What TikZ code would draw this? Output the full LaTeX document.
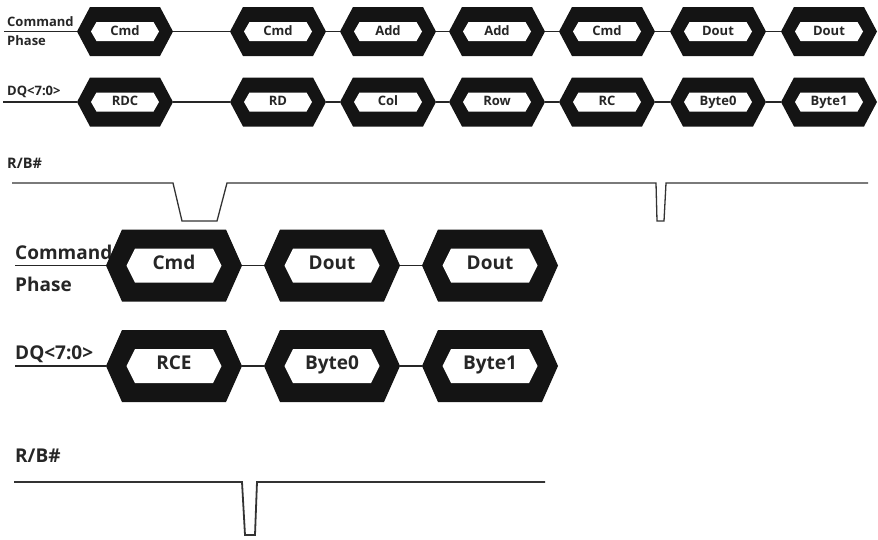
\documentclass[tikz,border=0pt]{standalone}
\usepackage{fontspec}
\setmainfont{Open Sans}
\usetikzlibrary{calc}
\begin{document}
\begin{tikzpicture}[x=1pt,y=-1pt,
  wire/.style={draw=black!85,line width=1.1pt},
  bigwire/.style={draw=black!85,line width=1.6pt},
  wave/.style={draw=black!80,line width=1.3pt,line join=miter},
  bigwave/.style={draw=black!80,line width=1.8pt,line join=miter},
  lbl/.style={anchor=base west,inner sep=0pt,font=\bfseries\fontsize{13}{15}\selectfont,text=black!85},
  biglbl/.style={anchor=base west,inner sep=0pt,font=\bfseries\fontsize{19}{22}\selectfont,text=black!85},
  % small bus cell: black hexagon with a white hexagonal window
  hexsmall/.style={inner sep=0pt,minimum width=96pt,minimum height=49pt,
    text height=0.714em,text depth=0pt,
    font=\bfseries\fontsize{13}{15}\selectfont,text=black!85,
    path picture={
      \coordinate (pc) at (path picture bounding box.center);
      \fill[black!92] ([xshift=-48pt]pc) -- ++(13,-24.5) -- ++(70,0) -- ++(13,24.5)
        -- ++(-13,24.5) -- ++(-70,0) -- cycle;
      \fill[white] ([xshift=-34pt]pc) -- ++(5.5,-9.5) -- ++(57,0) -- ++(5.5,9.5)
        -- ++(-5.5,9.5) -- ++(-57,0) -- cycle;
    }},
  % large bus cell
  hexbig/.style={inner sep=0pt,minimum width=136pt,minimum height=72pt,
    text height=0.714em,text depth=0pt,
    font=\bfseries\fontsize{19}{22}\selectfont,text=black!85,
    path picture={
      \coordinate (pc) at (path picture bounding box.center);
      \fill[black!92] ([xshift=-68pt]pc) -- ++(16,-36) -- ++(104,0) -- ++(16,36)
        -- ++(-16,36) -- ++(-104,0) -- cycle;
      \fill[white] ([xshift=-47.5pt]pc) -- ++(8.5,-17) -- ++(78,0) -- ++(8.5,17)
        -- ++(-8.5,17) -- ++(-78,0) -- cycle;
    }}]
\useasboundingbox (0,0) rectangle (878,539);

% ---------- upper timing diagram ----------
\node[lbl] (cmdA) at (7,26) {Command};
\node[lbl] (phA) at (7,45) {Phase};
\node[lbl] (dqA) at (7,95) {DQ<7:0>};
\node[lbl,font=\bfseries\fontsize{14.5}{16}\selectfont] (rbA) at (7,168) {R/B\#};

\node[hexsmall] (c1) at (125,31.5) {Cmd};
\node[hexsmall] (c2) at (278,31.5) {Cmd};
\node[hexsmall] (c3) at (388,31.5) {Add};
\node[hexsmall] (c4) at (497,31.5) {Add};
\node[hexsmall] (c5) at (607,31.5) {Cmd};
\node[hexsmall] (c6) at (718,31.5) {Dout};
\node[hexsmall] (c7) at (829,31.5) {Dout};

\node[hexsmall] (d1) at (125,102) {RDC};
\node[hexsmall] (d2) at (278,102) {RD};
\node[hexsmall] (d3) at (388,102) {Col};
\node[hexsmall] (d4) at (497,102) {Row};
\node[hexsmall] (d5) at (607,102) {RC};
\node[hexsmall] (d6) at (718,102) {Byte0};
\node[hexsmall] (d7) at (829,102) {Byte1};

\coordinate (cIn) at (4,31.5);
\coordinate (dIn) at (3,102);
\draw[wire] (cIn) -- (c1.west);
\draw[wire] (dIn) -- (d1.west);
\foreach \a/\b in {1/2,2/3,3/4,4/5,5/6,6/7}{
  \draw[wire] (c\a.east) -- (c\b.west);
  \draw[wire] (d\a.east) -- (d\b.west);
}

\draw[wave] (12,183) -- (173,183) -- (182,221) -- (217,221) -- (227,183)
  -- (656,183) -- (657,221) -- (664,221) -- (666,183) -- (868,183);

% ---------- lower timing diagram ----------
\node[biglbl] (cmdB) at (15,259) {Command};
\node[biglbl] (phB) at (15,291) {Phase};
\node[biglbl] (dqB) at (15,359) {DQ<7:0>};
\node[biglbl] (rbB) at (15,462) {R/B\#};

\node[hexbig] (e1) at (174,265.5) {Cmd};
\node[hexbig] (e2) at (332,265.5) {Dout};
\node[hexbig] (e3) at (490,265.5) {Dout};

\node[hexbig] (f1) at (174,366) {RCE};
\node[hexbig] (f2) at (332,366) {Byte0};
\node[hexbig] (f3) at (490,366) {Byte1};

\coordinate (eIn) at (15,265.5);
\coordinate (fIn) at (15,366);
\draw[bigwire] (eIn) -- (e1.west);
\draw[bigwire] (fIn) -- (f1.west);
\foreach \a/\b in {1/2,2/3}{
  \draw[bigwire] (e\a.east) -- (e\b.west);
  \draw[bigwire] (f\a.east) -- (f\b.west);
}

\draw[bigwave] (14,482) -- (242,482) -- (245,535) -- (255,535) -- (257,482) -- (545,482);
\end{tikzpicture}
\end{document}
